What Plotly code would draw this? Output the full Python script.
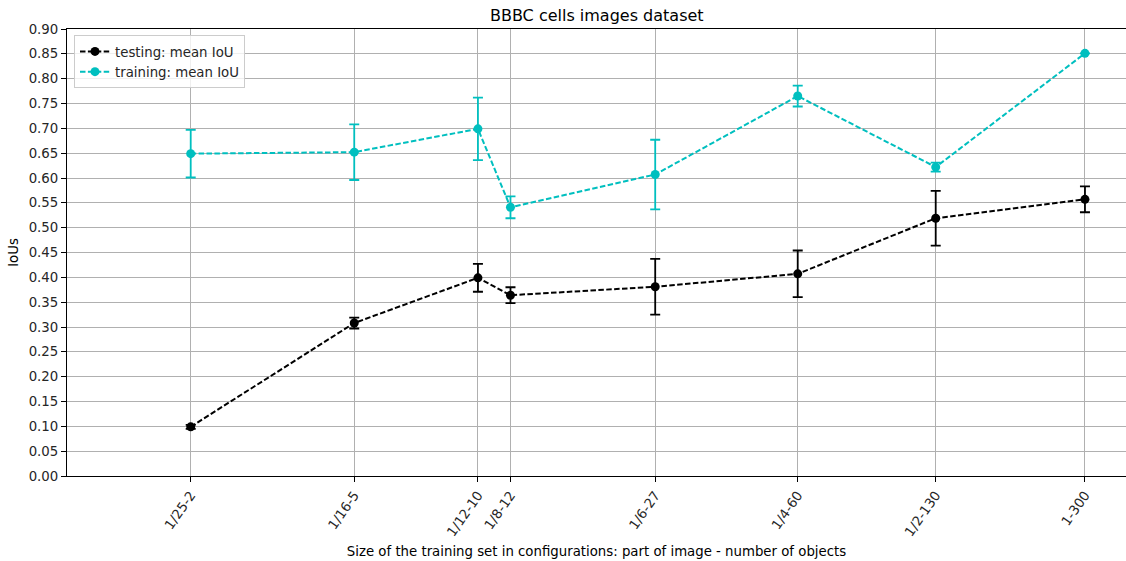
import plotly.graph_objects as go

# Training-set configurations: number of objects (x, log scale) and their labels
n_objects = [2, 5, 10, 12, 27, 60, 130, 300]
config_labels = ["1/25-2", "1/16-5", "1/12-10", "1/8-12", "1/6-27", "1/4-60", "1/2-130", "1-300"]

# Mean IoU and its spread on the test images
test_mean = [0.099, 0.308, 0.399, 0.364, 0.381, 0.407, 0.519, 0.557]
test_err = [0.004, 0.011, 0.028, 0.016, 0.056, 0.047, 0.055, 0.026]

# Mean IoU and its spread on the training images
train_mean = [0.649, 0.652, 0.699, 0.541, 0.607, 0.765, 0.622, 0.851]
train_err = [0.048, 0.056, 0.063, 0.022, 0.070, 0.021, 0.009, 0.0]

FONT = "DejaVu Sans, sans-serif"
FS = 13.3
CYAN = "#00BFBF"


def series(y, err, color, name):
    return go.Scatter(
        x=n_objects, y=y, name=name, mode="lines+markers",
        line=dict(color=color, width=2, dash="5.5px,2.4px"),
        marker=dict(color=color, size=9),
        error_y=dict(type="data", array=err, visible=True, color=color,
                     thickness=1.8, width=5),
    )


fig = go.Figure()
fig.add_trace(series(test_mean, test_err, "black", "testing: mean IoU"))
fig.add_trace(series(train_mean, train_err, CYAN, "training: mean IoU"))

fig.update_layout(
    width=1126, height=561,
    margin=dict(l=67, r=0, t=29, b=85),
    paper_bgcolor="white", plot_bgcolor="white",
    font=dict(family=FONT, size=FS, color="#262626"),
    title=dict(text="BBBC cells images dataset", x=0.53, xanchor="center",
               y=0.973, yanchor="middle", font=dict(size=16, color="black")),
    legend=dict(x=0.0066, y=0.986, xanchor="left", yanchor="top",
                bgcolor="rgba(255,255,255,0.8)", bordercolor="#cccccc",
                borderwidth=1, tracegroupgap=0,
                font=dict(size=FS, color="#262626")),
    showlegend=True,
)

fig.update_xaxes(
    type="log", range=[0, 2.577],
    tickmode="array", tickvals=n_objects, ticktext=config_labels,
    tickangle=-55, ticks="outside", ticklen=5, tickcolor="black",
    showgrid=True, gridcolor="#b0b0b0", gridwidth=1,
    showline=True, linecolor="black", linewidth=1.2, mirror=True,
    zeroline=False,
    title=dict(text="Size of the training set in configurations: part of image - number of objects",
               font=dict(size=FS, color="black"), standoff=8),
)

fig.update_yaxes(
    range=[0, 0.9], dtick=0.05, tickformat=".2f",
    ticks="outside", ticklen=5, tickcolor="black",
    showgrid=True, gridcolor="#b0b0b0", gridwidth=1,
    showline=True, linecolor="black", linewidth=1.2,
    zeroline=False,
    title=dict(text="IoUs", font=dict(size=FS, color="black"), standoff=6),
)

fig.write_html("out.html")
